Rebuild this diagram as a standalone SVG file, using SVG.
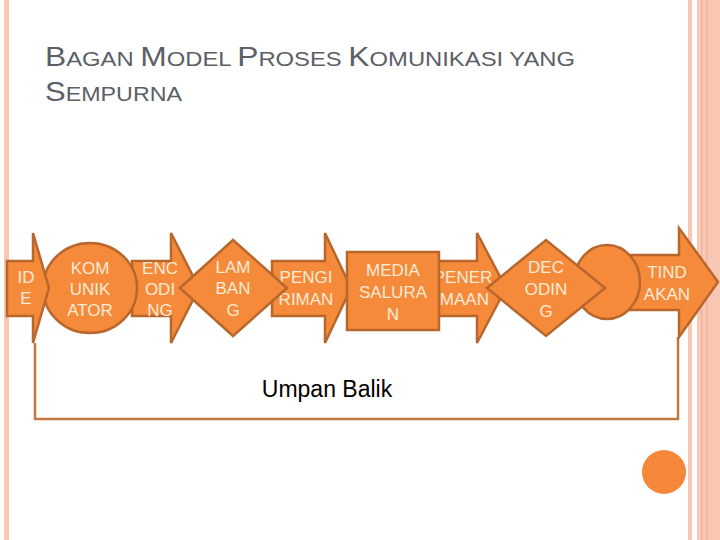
<svg xmlns="http://www.w3.org/2000/svg" width="720" height="540" viewBox="0 0 720 540">
<style>
.shape{fill:#F68A3B;stroke:#B9662D;stroke-width:2.5;stroke-linejoin:miter}
.lbl{font-family:"Liberation Sans",Arial,sans-serif;font-size:17px;fill:#FCEBD6;text-anchor:middle}
.title{font-family:"Liberation Sans",Arial,sans-serif;fill:#5C6066}
.big{font-size:28px}
.small{font-size:21px}
.stripe{fill:#F9C8B4}
</style>
<rect width="720" height="540" fill="#FFFFFF"/>
<g id="frame">
<rect class="stripe" x="4" y="0" width="5" height="540"/>
<rect class="stripe" x="688" y="0" width="4" height="540"/>
<rect class="stripe" x="697" y="0" width="23" height="540"/>
<rect x="701" y="0" width="1.5" height="540" fill="#F3B39C"/>
<rect x="706" y="0" width="1.5" height="540" fill="#F3B39C"/>
</g>
<g id="title">
<text class="title" x="45" y="66" textLength="530" lengthAdjust="spacingAndGlyphs"><tspan class="big">B</tspan><tspan class="small">AGAN </tspan><tspan class="big">M</tspan><tspan class="small">ODEL </tspan><tspan class="big">P</tspan><tspan class="small">ROSES </tspan><tspan class="big">K</tspan><tspan class="small">OMUNIKASI YANG</tspan></text>
<text class="title" x="45" y="101" textLength="137" lengthAdjust="spacingAndGlyphs"><tspan class="big">S</tspan><tspan class="small">EMPURNA</tspan></text>
</g>
<g id="connectors">
<polyline points="35,343 35,419 678,419 678,337" fill="none" stroke="#C0783F" stroke-width="2.5"/>
</g>
<g id="encoding">
<polygon class="shape" points="132,261 171,261 171,233 199,288 171,343 171,316 132,316"/>
<text class="lbl" x="160" y="274">ENC</text>
<text class="lbl" x="160" y="295">ODI</text>
<text class="lbl" x="160" y="316">NG</text>
</g>
<g id="pengiriman">
<polygon class="shape" points="272,261 325,261 325,233 351,288 325,343 325,316 272,316"/>
<text class="lbl" x="306" y="283">PENGI</text>
<text class="lbl" x="306" y="305">RIMAN</text>
</g>
<g id="penerimaan">
<polygon class="shape" points="430,261 477,261 477,233 506,288 477,343 477,316 430,316"/>
<text class="lbl" x="463" y="283">PENER</text>
<text class="lbl" x="462" y="305">IMAAN</text>
</g>
<g id="tindakan">
<polygon class="shape" points="630,255 679,255 679,228 718,282 679,337 679,310 630,310"/>
<text class="lbl" x="667" y="278">TIND</text>
<text class="lbl" x="667" y="300">AKAN</text>
</g>
<g id="komunikator">
<ellipse class="shape" cx="90" cy="288" rx="47" ry="45"/>
<text class="lbl" x="90" y="274">KOM</text>
<text class="lbl" x="90" y="295">UNIK</text>
<text class="lbl" x="90" y="316">ATOR</text>
</g>
<g id="ide">
<polygon class="shape" points="7,261 33,261 33,233 49,288 33,343 33,316 7,316"/>
<text class="lbl" x="26" y="283">ID</text>
<text class="lbl" x="26" y="304">E</text>
</g>
<g id="lambang">
<polygon class="shape" points="180,288 233,240 287,288 233,336"/>
<text class="lbl" x="233" y="273">LAM</text>
<text class="lbl" x="233" y="294">BAN</text>
<text class="lbl" x="233" y="316">G</text>
</g>
<g id="media">
<rect class="shape" x="347" y="252" width="92" height="78"/>
<text class="lbl" x="393" y="276">MEDIA</text>
<text class="lbl" x="393" y="298">SALURA</text>
<text class="lbl" x="393" y="320">N</text>
</g>
<g id="circle-empty">
<ellipse class="shape" cx="607" cy="282" rx="33" ry="37"/>
</g>
<g id="decoding">
<polygon class="shape" points="487,288 546,240 605,288 546,336"/>
<text class="lbl" x="546" y="273">DEC</text>
<text class="lbl" x="546" y="295">ODIN</text>
<text class="lbl" x="546" y="317">G</text>
</g>
<g id="umpan-balik">
<text x="327" y="397" font-family="'Liberation Sans',Arial,sans-serif" font-size="23" fill="#000000" text-anchor="middle">Umpan Balik</text>
</g>
<g id="dot">
<circle cx="664" cy="472" r="22" fill="#F7873A"/>
</g>
</svg>
